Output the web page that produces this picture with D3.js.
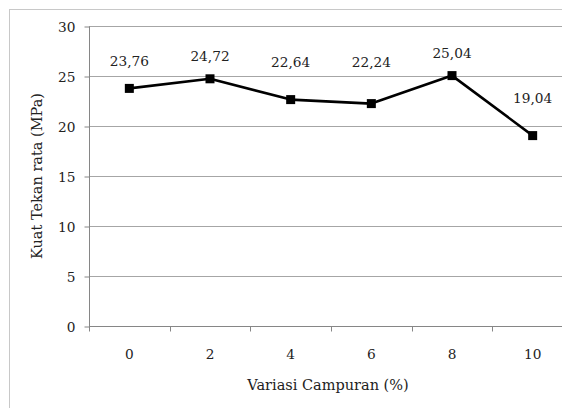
<!DOCTYPE html>
<html>
<head>
<meta charset="utf-8">
<script src="https://cdn.jsdelivr.net/npm/d3@7/dist/d3.min.js"></script>
<style>
  html, body { margin: 0; padding: 0; background: #fff; }
  svg { display: block; }
</style>
</head>
<body>
<svg id="chart" width="562" height="408"></svg>
<script>
// Data
const categories = ["0", "2", "4", "6", "8", "10"];
const values = [23.76, 24.72, 22.64, 22.24, 25.04, 19.04];
const valueLabels = ["23,76", "24,72", "22,64", "22,24", "25,04", "19,04"];
const labelLift = [27, 23, 38, 42, 23, 38];
const yTicks = [0, 5, 10, 15, 20, 25, 30];
const xTitle = "Variasi Campuran (%)";
const yTitle = "Kuat Tekan rata (MPa)";

(function () {
const FONT = '"DejaVu Serif", serif';
const NUM_SIZE = "13.7px";
const TITLE_SIZE = "14.5px";
const svg = d3.select("#chart");
const pLeft = 89, pRight = 573, pTop = 26, pBottom = 326;

svg.append("rect")
  .attr("x", 9.5).attr("y", 9.5)
  .attr("width", 600).attr("height", 420)
  .attr("fill", "none").attr("stroke", "#c8c8c8").attr("stroke-width", 1);

const x = d3.scaleBand().domain(categories).range([pLeft, pRight]).padding(0);
const y = d3.scaleLinear().domain([0, 30]).range([pBottom, pTop]);

svg.append("g")
  .selectAll("line")
  .data(yTicks.filter(d => d > 0))
  .join("line")
  .attr("x1", pLeft).attr("x2", pRight)
  .attr("y1", d => Math.round(y(d)) + 0.5).attr("y2", d => Math.round(y(d)) + 0.5)
  .attr("stroke", "#a6a6a6").attr("stroke-width", 1);

const yAxis = d3.axisLeft(y).tickValues(yTicks).tickSize(5).tickPadding(9).tickFormat(d3.format("d"));
const gy = svg.append("g").attr("transform", `translate(${pLeft + 0.5},0.5)`).call(yAxis);
gy.attr("font-family", null).attr("font-size", null);
gy.select(".domain").attr("stroke", "#868686").attr("d", `M0,${pTop}V${pBottom}`);
gy.selectAll(".tick line").attr("stroke", "#868686");
gy.selectAll(".tick text").style("font-size", NUM_SIZE).style("font-family", FONT).attr("dy", "0.36em").attr("fill", "#222");

const gx = svg.append("g").attr("transform", `translate(0,${pBottom + 0.5})`);
gx.append("line").attr("x1", pLeft).attr("x2", pRight).attr("y1", 0).attr("y2", 0).attr("stroke", "#868686");
const boundaries = categories.map(c => x(c)).concat([x(categories[categories.length - 1]) + x.bandwidth()]);
gx.selectAll("line.tk").data(boundaries).join("line").attr("class", "tk")
  .attr("x1", d => Math.round(d) + 0.5).attr("x2", d => Math.round(d) + 0.5)
  .attr("y1", 0).attr("y2", 5).attr("stroke", "#868686");
gx.selectAll("text").data(categories).join("text")
  .attr("x", d => x(d) + x.bandwidth() / 2)
  .attr("y", 354 - pBottom)
  .attr("dy", "0.36em")
  .attr("text-anchor", "middle")
  .attr("fill", "#222")
  .style("font-family", FONT)
  .style("font-size", NUM_SIZE)
  .text(d => d);

const pts = categories.map((c, i) => ({ c, v: values[i], lab: valueLabels[i], lift: labelLift[i] }));
svg.append("path")
  .datum(pts)
  .attr("fill", "none").attr("stroke", "#000").attr("stroke-width", 2.6)
  .attr("stroke-linejoin", "round")
  .attr("d", d3.line().x(d => x(d.c) + x.bandwidth() / 2).y(d => y(d.v)));

const ms = 9;
svg.append("g").selectAll("rect").data(pts).join("rect")
  .attr("x", d => x(d.c) + x.bandwidth() / 2 - ms / 2)
  .attr("y", d => y(d.v) - ms / 2)
  .attr("width", ms).attr("height", ms)
  .attr("fill", "#000");

svg.append("g").selectAll("text").data(pts).join("text")
  .attr("x", d => x(d.c) + x.bandwidth() / 2)
  .attr("y", d => y(d.v) - d.lift)
  .attr("dy", "0.36em")
  .attr("text-anchor", "middle")
  .attr("fill", "#222")
  .style("font-family", FONT)
  .style("font-size", NUM_SIZE)
  .text(d => d.lab);

svg.append("text")
  .attr("x", (pLeft + pRight) / 2 - 3).attr("y", 385).attr("dy", "0.34em")
  .attr("text-anchor", "middle").attr("fill", "#222")
  .style("font-size", TITLE_SIZE).style("font-family", FONT)
  .text(xTitle);
svg.append("text")
  .attr("transform", `translate(37,${(pTop + pBottom) / 2}) rotate(-90)`)
  .attr("dy", "0.34em")
  .attr("text-anchor", "middle").attr("fill", "#222")
  .style("font-size", TITLE_SIZE).style("font-family", FONT)
  .text(yTitle);
})();
</script>
</body>
</html>
